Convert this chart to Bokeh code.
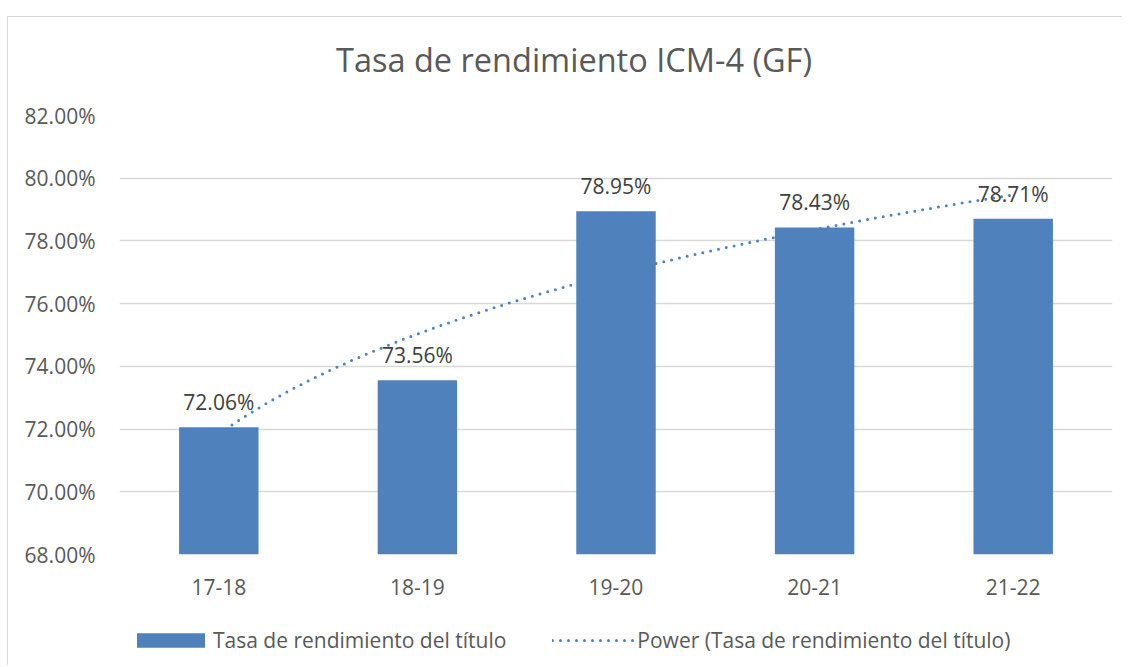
import numpy as np
from bokeh.plotting import figure
from bokeh.layouts import column
from bokeh.models import (ColumnDataSource, Range1d, FixedTicker, PrintfTickFormatter,
                          LabelSet, Label, Legend, LegendItem)
from bokeh.core.properties import value
from bokeh.embed import file_html
from bokeh.resources import INLINE

# ---- data ----
categories = ["17-18", "18-19", "19-20", "20-21", "21-22"]
values = [72.06, 73.56, 78.95, 78.43, 78.71]
y_ticks = [68, 70, 72, 74, 76, 78, 80, 82]
title_text = "Tasa de rendimiento ICM-4 (GF)"
series_name = "Tasa de rendimiento del título"
trend_name = "Power (Tasa de rendimiento del título)"

BLUE = "#4F81BD"
GRID = "#d9d9d9"
AX = "#595959"
FONT = "Open Sans"

xpos = list(range(1, len(categories) + 1))
labels = [f"{v:.2f}%" for v in values]
src = ColumnDataSource(dict(x=xpos, top=values, lab=labels))

# power trendline fitted to the bar values (as Excel does)
b, lna = np.polyfit(np.log(xpos), np.log(values), 1)
tx = np.linspace(1, len(categories), 120)
ty = np.exp(lna) * tx ** b

W, H0, H1, H2 = 1114, 80, 520, 48
TOP_PAD = 18


def strip(height, xr, yr):
    f = figure(width=W, height=height, output_backend="svg", toolbar_location=None,
               x_range=xr, y_range=yr)
    f.axis.visible = False
    f.min_border_left = 0
    f.min_border_right = 0
    f.min_border_top = 0
    f.min_border_bottom = 0
    f.outline_line_color = None
    f.xgrid.grid_line_color = None
    f.ygrid.grid_line_color = None
    f.background_fill_color = "white"
    f.border_fill_color = "white"
    return f


# title strip above the chart
p0 = strip(H0, Range1d(0, 993), Range1d(0, H0))
p0.add_layout(Label(x=454.5, y=H0 - 42, text=title_text, text_align="center",
                    text_baseline="middle", text_font=FONT, text_font_size="32.5px",
                    text_color=AX))

# main chart
p = figure(width=W, height=H1, output_backend="svg", toolbar_location=None,
           x_range=Range1d(0.5, len(categories) + 0.5), y_range=Range1d(68, 82))
p.min_border_left = 111
p.min_border_right = W - 1104
p.min_border_top = TOP_PAD
p.min_border_bottom = 63
p.outline_line_color = None
p.background_fill_color = "white"
p.border_fill_color = "white"

trend = p.line(tx, ty, line_color=BLUE, line_width=3, line_dash="0 8", line_cap="round")
bars = p.vbar(x="x", top="top", bottom=68, width=0.4, source=src,
              fill_color=BLUE, line_color=None)

xa = p.xaxis[0]
xa.ticker = FixedTicker(ticks=xpos)
xa.major_label_overrides = {i: c for i, c in zip(xpos, categories)}
ya = p.yaxis[0]
ya.ticker = FixedTicker(ticks=y_ticks)
ya.formatter = PrintfTickFormatter(format="%.2f%%")
for ax in (xa, ya):
    ax.axis_line_color = None
    ax.major_tick_line_color = None
    ax.minor_tick_line_color = None
    ax.major_label_text_font = FONT
    ax.major_label_text_font_size = "21px"
    ax.major_label_text_color = AX
xa.major_label_standoff = 18
ya.major_label_standoff = 18
p.xgrid.grid_line_color = None
p.ygrid.grid_line_color = GRID
p.ygrid.grid_line_width = 1.5

p.add_layout(LabelSet(x="x", y="top", text="lab", source=src, text_align="center",
                      text_baseline="alphabetic", y_offset=17, text_font=value(FONT),
                      text_font_size=value("21px"), text_color="#404040"))

# legend strip below the chart (its renderers sit outside the visible range)
p2 = strip(H2, Range1d(0, 1), Range1d(0, 1))
lg_bar = p2.vbar(x=[-5], top=[-5], bottom=[-6], width=0.4, fill_color=BLUE, line_color=None)
lg_line = p2.line(x=[-5, -4], y=[-5, -5], line_color=BLUE, line_width=3, line_dash="0 8",
                  line_cap="round")
legend = Legend(items=[LegendItem(label=series_name, renderers=[lg_bar]),
                       LegendItem(label=trend_name, renderers=[lg_line])],
                orientation="horizontal", location=(9, 11),
                glyph_width=85, glyph_height=18, label_standoff=0, spacing=46,
                padding=0, margin=0, border_line_color=None,
                background_fill_alpha=0, label_text_font=FONT,
                label_text_font_size="21px", label_text_color=AX)
p2.add_layout(legend, "center")

layout = column(p0, p, p2, spacing=0)
layout.styles = {"border-top": f"1px solid {GRID}", "border-left": f"1px solid {GRID}",
                 "margin-top": "16px", "margin-left": "7px"}

open("out.html", "w").write(file_html(layout, INLINE))
